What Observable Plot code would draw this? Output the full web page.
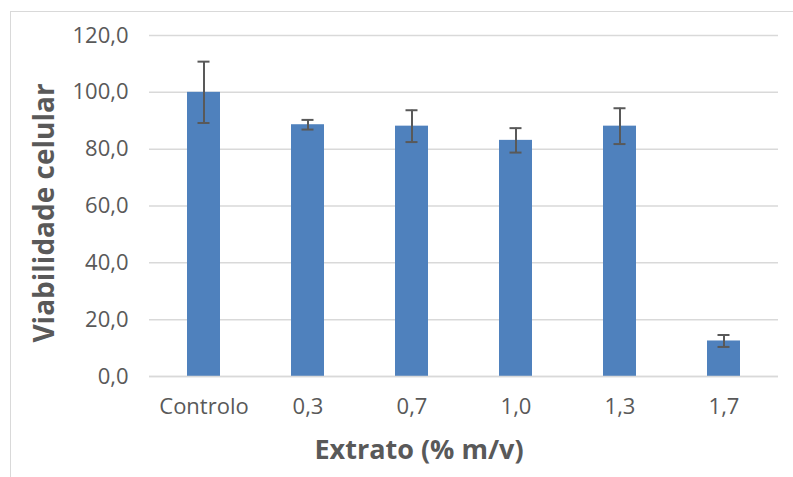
<!DOCTYPE html>
<html>
<head>
<meta charset="utf-8">
<script src="https://cdn.jsdelivr.net/npm/d3@7"></script>
<script src="https://cdn.jsdelivr.net/npm/@observablehq/plot@0.6"></script>
<style>
  html, body { margin: 0; padding: 0; background: #fff; overflow: hidden; }
  #wrap { position: relative; width: 793px; height: 477px; }
  #frame { position: absolute; left: 10px; top: 11px; width: 820px; height: 500px; border: 1.5px solid #d9d9d9; box-sizing: border-box; }
  #chart { position: absolute; left: 0; top: 0; }
</style>
</head>
<body>
<div id="wrap"><div id="frame"></div><div id="chart"></div></div>
<script>
const categories = ["Controlo", "0,3", "0,7", "1,0", "1,3", "1,7"];
const values = [100.0, 88.6, 88.1, 83.1, 88.1, 12.5];
const errors = [10.8, 1.7, 5.6, 4.3, 6.3, 2.1];
const yTicks = [0, 20, 40, 60, 80, 100, 120];

const data = categories.map((c, i) => ({ cat: c, v: values[i], e: errors[i] }));
const fmt = d => d.toFixed(1).replace(".", ",");
const grey = "#595959";

const chart = Plot.plot({
  width: 793,
  height: 477,
  marginLeft: 149,
  marginRight: 15,
  marginTop: 35,
  marginBottom: 101,
  style: { fontFamily: "'Open Sans', sans-serif", fontSize: "22px", color: grey, background: "transparent", overflow: "visible" },
  x: { domain: categories, paddingInner: 0.68, paddingOuter: 0.34, label: null },
  y: { domain: [0, 120], ticks: yTicks, label: null },
  marks: [
    Plot.gridY(yTicks, { stroke: "#d9d9d9", strokeOpacity: 1, strokeWidth: 1.5 }),
    Plot.barY(data, { x: "cat", y: "v", fill: "#4f81bd" }),
    Plot.ruleY([0], { stroke: "#d9d9d9", strokeWidth: 1.5 }),
    Plot.ruleX(data, { x: "cat", y1: d => d.v - d.e, y2: d => d.v + d.e, stroke: grey, strokeWidth: 2 }),
    Plot.tickY(data, { x: "cat", y: d => d.v + d.e, stroke: grey, strokeWidth: 2, insetLeft: 10.5, insetRight: 10.5 }),
    Plot.tickY(data, { x: "cat", y: d => d.v - d.e, stroke: grey, strokeWidth: 2, insetLeft: 10.5, insetRight: 10.5 }),
    Plot.axisY(yTicks, { tickSize: 0, tickPadding: 21, tickFormat: fmt, fill: grey, fontSize: 22, label: null }),
    Plot.axisX({ tickSize: 0, tickPadding: 22, fill: grey, fontSize: 22, label: null }),
    Plot.text(["Extrato (% m/v)"], { frameAnchor: "bottom", dx: -45, dy: 82, fontSize: 27, fontWeight: "bold", fill: grey }),
    Plot.text(["Viabilidade celular"], { frameAnchor: "left", textAnchor: "middle", dx: -104, dy: 7, rotate: -90, fontSize: 28, fontWeight: "bold", fill: grey })
  ]
});
document.getElementById("chart").appendChild(chart);
</script>
</body>
</html>
